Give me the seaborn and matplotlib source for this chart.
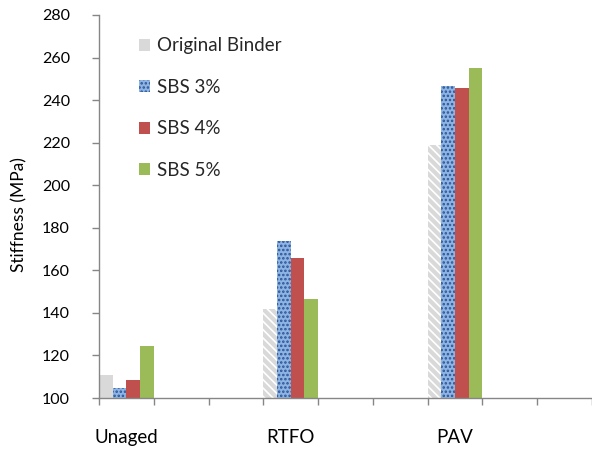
import numpy as np
import pandas as pd
import matplotlib
matplotlib.use("Agg")
import matplotlib.pyplot as plt
import seaborn as sns

# Stiffness of binders after each ageing stage
stages = ["Unaged", "RTFO", "PAV"]
series = ["Original Binder", "SBS 3%", "SBS 4%", "SBS 5%"]
original_binder = [110.8, 141.8, 218.9]
sbs_3 = [104.7, 173.8, 246.6]
sbs_4 = [108.5, 165.8, 245.8]
sbs_5 = [124.4, 146.7, 255.1]
y_ticks = [100, 120, 140, 160, 180, 200, 220, 240, 260, 280]

colors = ["#D9D9D9", "#8EB4E3", "#C0504D", "#9BBB59"]

sns.set_theme(style="white")
plt.rcParams["font.family"] = ["Lato", "DejaVu Sans"]
plt.rcParams["hatch.linewidth"] = 1.2

rows = []
for name, vals in zip(series, [original_binder, sbs_3, sbs_4, sbs_5]):
    for st, v in zip(stages, vals):
        rows.append({"stage": st, "series": name, "stiffness": v})
df = pd.DataFrame(rows)

# spread the three stages over a wider category axis with empty slots between them
order = ["Unaged", " ", "  ", "RTFO", "   ", "    ", "PAV", "     ", "      "]

fig = plt.figure(figsize=(5.92, 4.5), dpi=100)
ax = fig.add_axes([99 / 592, 1 - 398 / 450, 1 - 99 / 592, (398 - 15) / 450])

sns.barplot(data=df, x="stage", y="stiffness", hue="series", order=order,
            hue_order=series, palette=colors, width=1.0, saturation=1,
            errorbar=None, ax=ax, linewidth=0)

BLUE_HATCH = "...."
BLUE_EDGE = "#2B5396"

# textures: hatched grey for aged original binder, speckled blue for SBS 3%
for bar in ax.containers[0]:
    cx = bar.get_x() + bar.get_width() / 2
    if cx > 1:
        bar.set_hatch("\\\\\\\\")
        bar.set_edgecolor("white")
        bar.set_linewidth(0)
for bar in ax.containers[1]:
    bar.set_hatch(BLUE_HATCH)
    bar.set_edgecolor(BLUE_EDGE)
    bar.set_linewidth(0)

ax.set_ylim(100, 280)
ax.set_yticks(y_ticks)
ax.set_xlim(-0.5, -0.5 + 493 / 55.5)

# category boundaries as tick marks, stage names centred beneath the bars
major = np.arange(-0.5, 9.0, 1.0)
ax.set_xticks(major)
ax.set_xticklabels([""] * len(major))
ax.set_xticks([0, 3, 6], minor=True)
ax.set_xticklabels(stages, minor=True)

spine_color = "#868686"
for s in ["top", "right"]:
    ax.spines[s].set_visible(False)
for s in ["left", "bottom"]:
    ax.spines[s].set_color(spine_color)
    ax.spines[s].set_linewidth(1.0)

ax.tick_params(axis="both", which="major", direction="out", length=5,
               width=1.0, color=spine_color, labelsize=11.5, labelcolor="black")
ax.tick_params(axis="x", which="major", bottom=True)
ax.tick_params(axis="y", which="major", left=True, pad=16)
ax.tick_params(axis="x", which="minor", bottom=True, length=0, pad=22,
               labelsize=13.5, labelcolor="black")

ax.set_xlabel("")
ax.set_ylabel("Stiffness (MPa)", fontsize=12.5, color="black")
ax.yaxis.set_label_coords(-0.145, 0.48)

handles, labels = ax.get_legend_handles_labels()
leg = ax.legend(handles, labels, loc="upper left",
                bbox_to_anchor=(131 / 592, 1 - 30 / 450),
                bbox_transform=fig.transFigure, frameon=False, fontsize=13.5,
                handlelength=0.6, handleheight=0.6, handletextpad=0.4,
                labelspacing=1.3, borderaxespad=0)
blue_handle = leg.legend_handles[1]
blue_handle.set_hatch(BLUE_HATCH)
blue_handle.set_edgecolor(BLUE_EDGE)
blue_handle.set_linewidth(0)

fig.savefig("out.png", dpi=100)
